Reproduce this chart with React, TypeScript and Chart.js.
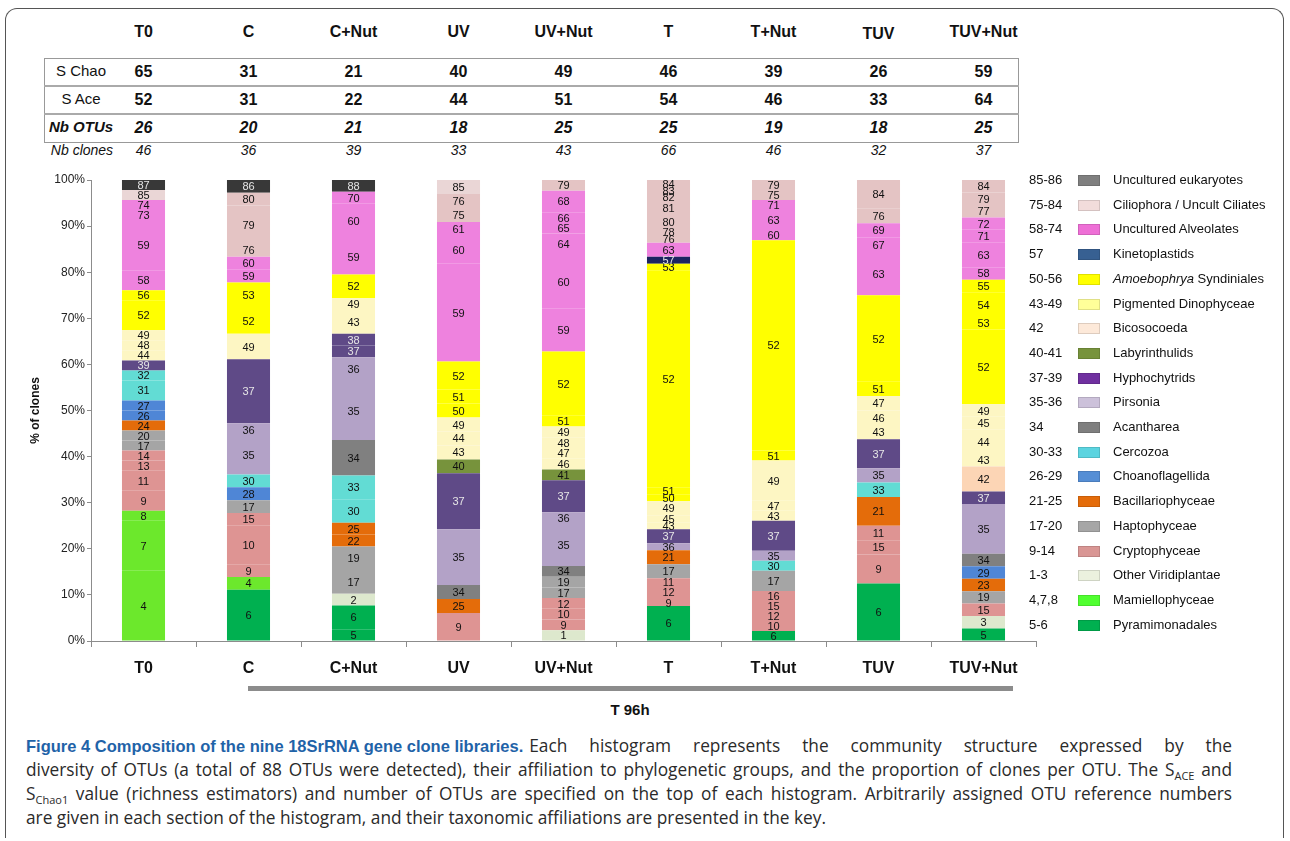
import React, { useEffect, useRef } from "react";
import { Chart, registerables } from "chart.js";
Chart.register(...registerables);

const FONT = '"Liberation Sans", Arial, Helvetica, sans-serif';
const CAPTION_FONT = '"Open Sans", "Liberation Sans", Arial, sans-serif';

const libraries = ["T0", "C", "C+Nut", "UV", "UV+Nut", "T", "T+Nut", "TUV", "TUV+Nut"];
const sChao = [65, 31, 21, 40, 49, 46, 39, 26, 59];
const sAce = [52, 31, 22, 44, 51, 54, 46, 33, 64];
const nbOtus = [26, 20, 21, 18, 25, 25, 19, 18, 25];
const nbClones = [46, 36, 39, 33, 43, 66, 46, 32, 37];
const yTickStep = 10;

// OTU numbers (bottom to top) and clone counts per library
const t0Otus = [4, 7, 8, 9, 11, 13, 14, 17, 20, 24, 26, 27, 31, 32, 39, 44, 48, 49, 52, 56, 58, 59, 73, 74, 85, 87];
const t0Clones = [7, 5, 1, 2, 2, 1, 1, 1, 1, 1, 1, 1, 2, 1, 1, 1, 1, 1, 3, 1, 2, 5, 1, 1, 1, 1];
const cOtus = [6, 4, 9, 10, 15, 17, 28, 30, 35, 36, 37, 49, 52, 53, 59, 60, 76, 79, 80, 86];
const cClones = [4, 1, 1, 3, 1, 1, 1, 1, 3, 1, 5, 2, 2, 2, 1, 1, 1, 3, 1, 1];
const cNutOtus = [5, 6, 2, 17, 19, 22, 25, 30, 33, 34, 35, 36, 37, 38, 43, 49, 52, 59, 60, 70, 88];
const cNutClones = [1, 2, 1, 2, 2, 1, 1, 2, 2, 3, 5, 2, 1, 1, 2, 1, 2, 3, 3, 1, 1];
const uvOtus = [9, 25, 34, 35, 37, 40, 43, 44, 49, 50, 51, 52, 59, 60, 61, 75, 76, 85];
const uvClones = [2, 1, 1, 4, 4, 1, 1, 1, 1, 1, 1, 2, 7, 2, 1, 1, 1, 1];
const uvNutOtus = [1, 9, 10, 12, 17, 19, 34, 35, 36, 37, 41, 46, 47, 48, 49, 51, 52, 59, 60, 64, 65, 66, 68, 79];
const uvNutClones = [1, 1, 1, 1, 1, 1, 1, 4, 1, 3, 1, 1, 1, 1, 1, 1, 6, 4, 5, 2, 1, 1, 2, 1];
const tOtus = [6, 9, 12, 11, 17, 21, 36, 37, 43, 45, 49, 50, 51, 52, 53, 57, 63, 76, 78, 80, 81, 82, 83, 84];
const tClones = [5, 1, 2, 1, 2, 2, 1, 2, 1, 1, 2, 1, 1, 31, 1, 1, 2, 1, 1, 2, 2, 1, 1, 1];
const tNutOtus = [6, 10, 12, 15, 16, 17, 30, 35, 37, 43, 47, 49, 51, 52, 60, 63, 71, 75, 79];
const tNutClones = [1, 1, 1, 1, 1, 2, 1, 1, 3, 1, 1, 4, 1, 21, 1, 2, 1, 1, 1];
const tuvOtus = [6, 9, 15, 11, 21, 33, 35, 37, 43, 46, 47, 51, 52, 63, 67, 69, 76, 84];
const tuvClones = [4, 2, 1, 1, 2, 1, 1, 2, 1, 1, 1, 1, 6, 3, 1, 1, 1, 2];
const tuvNutOtus = [5, 3, 15, 19, 23, 29, 34, 35, 37, 42, 43, 44, 45, 49, 52, 53, 54, 55, 58, 63, 71, 72, 77, 79, 84];
const tuvNutClones = [1, 1, 1, 1, 1, 1, 1, 4, 1, 2, 1, 2, 1, 1, 6, 1, 2, 1, 1, 2, 1, 1, 1, 1, 1];

const libOtus = [t0Otus, cOtus, cNutOtus, uvOtus, uvNutOtus, tOtus, tNutOtus, tuvOtus, tuvNutOtus];
const libClones = [t0Clones, cClones, cNutClones, uvClones, uvNutClones, tClones, tNutClones, tuvClones, tuvNutClones];

// Legend (key)
const legendRanges = ["85-86", "75-84", "58-74", "57", "50-56", "43-49", "42", "40-41", "37-39", "35-36", "34", "30-33", "26-29", "21-25", "17-20", "9-14", "1-3", "4,7,8", "5-6"];
const legendNames = ["Uncultured eukaryotes", "Ciliophora / Uncult Ciliates", "Uncultured Alveolates", "Kinetoplastids", "Amoebophrya", "Pigmented Dinophyceae", "Bicosocoeda", "Labyrinthulids", "Hyphochytrids", "Pirsonia", "Acantharea", "Cercozoa", "Choanoflagellida", "Bacillariophyceae", "Haptophyceae", "Cryptophyceae", "Other Viridiplantae", "Mamiellophyceae", "Pyramimonadales"];
const legendColors = ["#7f7f7f", "#f2dcdb", "#ee6fd6", "#376092", "#ffff00", "#ffff99", "#fde9d9", "#77933c", "#7030a0", "#ccc1da", "#7f7f7f", "#5bd4e0", "#558ed5", "#e46c0a", "#a6a6a6", "#d99694", "#ebf1de", "#50ff30", "#00b050"];

function otuColor(o: number): string {
  if (o <= 3) return "#dde8cd";
  if (o === 4 || o === 7 || o === 8) return "#6ce82c";
  if (o === 5 || o === 6) return "#00b050";
  if (o <= 16) return "#de9493";
  if (o <= 20) return "#a5a5a5";
  if (o <= 25) return "#e46c0a";
  if (o <= 29) return "#4f86d6";
  if (o <= 33) return "#62dcd4";
  if (o === 34) return "#808080";
  if (o <= 36) return "#b3a2c7";
  if (o <= 39) return "#5f4a87";
  if (o <= 41) return "#77933c";
  if (o === 42) return "#fcd5b5";
  if (o <= 49) return "#fdf6c3";
  if (o <= 56) return "#ffff00";
  if (o === 57) return "#1c2460";
  if (o <= 74) return "#ee82de";
  if (o <= 84) return "#e4c4c4";
  if (o === 85) return "#ead6d6";
  return "#383838";
}
function otuTextColor(o: number): string {
  if ((o >= 37 && o <= 39) || o === 57 || o >= 86) return "#e6e6e6";
  return "#111";
}

const maxSegs = Math.max(...libOtus.map((a) => a.length));
const datasets = Array.from({ length: maxSegs }, (_, k) => ({
  label: "seg" + k,
  data: libOtus.map((otus, i) => (k < otus.length ? (libClones[i][k] / nbClones[i]) * 100 : null)),
  otus: libOtus.map((otus) => (k < otus.length ? otus[k] : null)),
  backgroundColor: libOtus.map((otus) => (k < otus.length ? otuColor(otus[k]) : "transparent")),
  borderWidth: 0,
  barPercentage: 0.82,
  categoryPercentage: 0.5,
}));

const segLabelPlugin = {
  id: "segLabels",
  afterDatasetsDraw(chart: any) {
    const ctx = chart.ctx;
    ctx.save();
    ctx.font = "11px " + FONT;
    ctx.textAlign = "center";
    ctx.textBaseline = "middle";
    chart.data.datasets.forEach((ds: any, di: number) => {
      const meta = chart.getDatasetMeta(di);
      meta.data.forEach((el: any, i: number) => {
        const otu = ds.otus[i];
        if (otu == null) return;
        const p = el.getProps(["x", "y", "base"], true);
        ctx.fillStyle = otuTextColor(otu);
        ctx.fillText(String(otu), p.x, (p.y + p.base) / 2 + 1);
      });
    });
    ctx.restore();
  },
};

const colX = (i: number) => 91 + 52.5 + 105 * i;

export default function App() {
  const ref = useRef<HTMLCanvasElement>(null);
  useEffect(() => {
    if (!ref.current) return;
    const chart = new Chart(ref.current, {
      type: "bar",
      data: { labels: libraries, datasets: datasets as any },
      options: {
        animation: false,
        responsive: false,
        devicePixelRatio: 1,
        layout: { padding: { top: 10, right: 4, left: 0, bottom: 0 } },
        plugins: { legend: { display: false }, tooltip: { enabled: false } },
        scales: {
          x: {
            stacked: true,
            grid: { display: true, drawOnChartArea: false, offset: true, tickLength: 6, color: "#8c8c8c" },
            border: { color: "#8c8c8c" },
            ticks: { font: { family: FONT, size: 16, weight: "bold" }, color: "#111", padding: 12 },
            afterFit: (s: any) => {
              s.height = 49;
            },
          },
          y: {
            stacked: true,
            min: 0,
            max: 100,
            grid: { drawOnChartArea: false, tickLength: 4, color: "#8c8c8c" },
            border: { color: "#8c8c8c" },
            ticks: {
              stepSize: yTickStep,
              padding: 2,
              font: { family: FONT, size: 12 },
              color: "#222",
              callback: (v: any) => v + "%",
            },
            title: { display: true, text: "% of clones", font: { family: FONT, size: 12, weight: "bold" }, color: "#111", padding: 0 },
            afterFit: (s: any) => {
              s.width = 63;
            },
          },
        },
      },
      plugins: [segLabelPlugin],
    });
    return () => chart.destroy();
  }, []);

  const abs = (l: number, t: number, extra: any = {}) => ({ position: "absolute" as const, left: l, top: t, ...extra });
  const rowLabels = ["S Chao", "S Ace", "Nb OTUs"];
  const rowVals = [sChao, sAce, nbOtus];
  const subStyle = { fontSize: 11, lineHeight: 0 };
  const CAP_W = 1206;
  const justLine = { height: 24, width: CAP_W, textAlign: "justify" as const, textAlignLast: "justify" as const, whiteSpace: "normal" as const, overflow: "hidden" };

  return (
    <div style={{ position: "absolute", left: 0, top: 0, width: 1290, height: 841, fontFamily: FONT, color: "#111", background: "#fff", overflow: "hidden" }}>
      <div style={abs(5, 8, { width: 1279, height: 830, border: "1px solid #555", borderBottom: "none", borderRadius: "12px 12px 0 0", boxSizing: "border-box" })} />
      {libraries.map((l, i) => (
        <div key={"h" + i} style={abs(colX(i) - 50, l === "TUV" ? 25 : 23, { width: 100, textAlign: "center", fontWeight: "bold", fontSize: 16 })}>{l}</div>
      ))}
      <div style={abs(44, 58, { width: 975, height: 85, border: "1px solid #999", boxSizing: "border-box" })} />
      <div style={abs(44, 85, { width: 975, height: 0, borderTop: "2px solid #aaa" })} />
      <div style={abs(44, 113, { width: 975, height: 0, borderTop: "2px solid #aaa" })} />
      {rowLabels.map((r, ri) => (
        <div key={"r" + ri} style={abs(46, 62 + ri * 28, { width: 70, textAlign: "center", fontSize: 15, fontWeight: ri === 2 ? "bold" : "normal", fontStyle: ri === 2 ? "italic" : "normal" })}>{r}</div>
      ))}
      {rowVals.map((vals, ri) =>
        vals.map((v, i) => (
          <div key={"v" + ri + "_" + i} style={abs(colX(i) - 30, 63 + ri * 28, { width: 60, textAlign: "center", fontSize: 16, fontWeight: "bold", fontStyle: ri === 2 ? "italic" : "normal" })}>{v}</div>
        ))
      )}
      <div style={abs(44, 142, { width: 76, textAlign: "center", fontSize: 14, fontStyle: "italic" })}>Nb clones</div>
      {nbClones.map((v, i) => (
        <div key={"n" + i} style={abs(colX(i) - 30, 142, { width: 60, textAlign: "center", fontSize: 14, fontStyle: "italic" })}>{v}</div>
      ))}
      <canvas ref={ref} width={1012} height={520} style={abs(28, 170, { width: 1012, height: 520 })} />
      <div style={abs(248, 686, { width: 765, height: 5, background: "#8c8c8c" })} />
      <div style={abs(580, 701, { width: 100, textAlign: "center", fontWeight: "bold", fontSize: 15 })}>T 96h</div>
      {legendRanges.map((r, i) => (
        <React.Fragment key={"lg" + i}>
          <div style={abs(1029, 172 + i * 24.7, { fontSize: 13 })}>{r}</div>
          <div style={abs(1078, 175 + i * 24.7, { width: 22, height: 11, background: legendColors[i], border: "1px solid rgba(0,0,0,0.12)", boxSizing: "border-box" })} />
          <div style={abs(1113, 172 + i * 24.7, { fontSize: 13, whiteSpace: "nowrap" })}>
            {i === 4 ? (
              <>
                <i>Amoebophrya</i> Syndiniales
              </>
            ) : (
              legendNames[i]
            )}
          </div>
        </React.Fragment>
      ))}
      <div style={abs(26, 734, { fontFamily: CAPTION_FONT, fontSize: 17.3, lineHeight: "24px", color: "#2a2a2a" })}>
        <div style={{ height: 24, width: CAP_W, display: "flex", whiteSpace: "nowrap" }}>
          <b style={{ color: "#1f63a8", fontFamily: FONT, fontSize: 16.5, marginRight: 6 }}>Figure 4 Composition of the nine 18SrRNA gene clone libraries.</b>
          <div style={{ flex: 1, textAlign: "justify", textAlignLast: "justify", whiteSpace: "normal", overflow: "hidden", height: 24 }}>Each histogram represents the community structure expressed by the</div>
        </div>
        <div style={justLine}>
          diversity of OTUs (a total of 88 OTUs were detected), their affiliation to phylogenetic groups, and the proportion of clones per OTU. The S<sub style={subStyle}>ACE</sub> and
        </div>
        <div style={justLine}>
          S<sub style={subStyle}>Chao1</sub> value (richness estimators) and number of OTUs are specified on the top of each histogram. Arbitrarily assigned OTU reference numbers
        </div>
        <div style={{ height: 24, whiteSpace: "nowrap" }}>are given in each section of the histogram, and their taxonomic affiliations are presented in the key.</div>
      </div>
    </div>
  );
}
